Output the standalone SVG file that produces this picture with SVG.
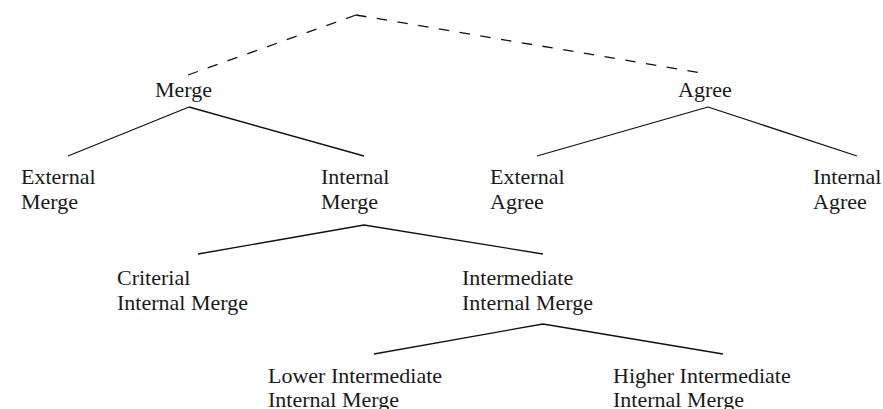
<svg xmlns="http://www.w3.org/2000/svg" width="883" height="409" viewBox="0 0 883 409">
<style>
text{font-family:"Liberation Serif","Times New Roman",serif;font-size:22px;fill:#1a1a1a}
.e{stroke:#111;stroke-width:1.3;fill:none;stroke-linecap:butt}
.d{stroke-dasharray:10.5 10.5}
</style>
<rect width="883" height="409" fill="#fff"/>
<g id="connectors">
<path class="e d" d="M356,15 L188,75"/>
<path class="e d" d="M356,15 L702,73"/>
<path class="e" d="M189,107 L68,156 M189,107 L364,156"/>
<path class="e" d="M708,107 L537,156 M708,107 L857,156"/>
<path class="e" d="M364,225 L198,254 M364,225 L543,254"/>
<path class="e" d="M543,324 L374,354 M543,324 L723,354"/>
</g>
<g id="merge"><text x="155" y="97">Merge</text></g>
<g id="agree"><text x="678" y="97">Agree</text></g>
<g id="external-merge"><text x="21" y="184">External</text><text x="21" y="209">Merge</text></g>
<g id="internal-merge"><text x="321" y="184">Internal</text><text x="321" y="209">Merge</text></g>
<g id="external-agree"><text x="490" y="184">External</text><text x="490" y="209">Agree</text></g>
<g id="internal-agree"><text x="813" y="184">Internal</text><text x="813" y="209">Agree</text></g>
<g id="criterial"><text x="117" y="285">Criterial</text><text x="117" y="310">Internal Merge</text></g>
<g id="intermediate"><text x="462" y="285">Intermediate</text><text x="462" y="310">Internal Merge</text></g>
<g id="lower"><text x="268" y="383">Lower Intermediate</text><text x="268" y="407">Internal Merge</text></g>
<g id="higher"><text x="613" y="383">Higher Intermediate</text><text x="613" y="407">Internal Merge</text></g>
</svg>
